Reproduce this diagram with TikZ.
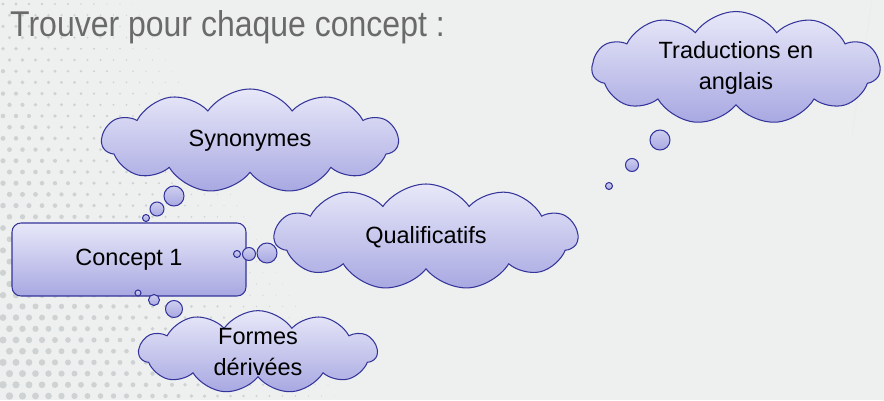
\documentclass[tikz,border=0pt]{standalone}
\usepackage{fontspec}
\setmainfont{Liberation Sans}
\usetikzlibrary{shapes.symbols}
\definecolor{bgc}{HTML}{EEF0F0}
\definecolor{dotc}{HTML}{CFD2D2}
\definecolor{edgec}{HTML}{34349A}
\definecolor{topc}{HTML}{E8E8F9}
\definecolor{botc}{HTML}{A8A8E2}
\definecolor{titlec}{HTML}{6A6A6A}
\tikzset{
  thought/.style={cloud, cloud ignores aspect, draw=edgec, line width=1.05pt, top color=topc, bottom color=botc,
    cloud puffs=11, cloud puff arc=110, inner sep=0pt, align=center,
    font=\fontsize{23.5}{31}\selectfont, text=black},
  bubble/.style={circle, draw=edgec, line width=1.05pt, top color=topc!60!botc, bottom color=botc, inner sep=0pt},
  conceptbox/.style={rectangle, rounded corners=9pt, draw=edgec, line width=1.05pt, top color=topc, bottom color=botc,
    font=\fontsize{23.5}{28}\selectfont, text=black}
}
\begin{document}
\begin{tikzpicture}[x=1pt,y=-1pt]
\useasboundingbox (0,0) rectangle (884,400);
\fill[bgc] (0,0) rectangle (884,400);
% halftone dots
\foreach \row in {0,...,36}{
  \foreach \col in {0,...,26}{
    \pgfmathsetmacro\yy{4+\row*11.2}
    \pgfmathsetmacro\xx{3+\col*13+mod(\row,2)*6.5}
    \pgfmathsetmacro\rr{max(0,3.8*(1-\xx/(180+0.5*\yy))*(0.45+0.0014*\yy))}
    \ifdim\rr pt>0.35pt
      \fill[dotc] (\xx,\yy) circle[radius=\rr];
    \fi
  }
}
% faint decoration top right
\draw[white!85!gray, line width=1.2pt] (872,0) -- (852,135);
\draw[white!88!gray, line width=1pt] (884,55) -- (835,90);

\node[anchor=base west, text=titlec, inner sep=0pt] (title) at (10,36)
  {\scalebox{1}[1.12]{\fontsize{32}{36}\selectfont Trouver pour chaque concept :}};

\node[conceptbox, minimum width=234, minimum height=73] (c1) at (129,259.5) {Concept 1};

\node[thought, minimum width=296, minimum height=104] (syn) at (250,141) {Synonymes};
\node[thought, minimum width=303, minimum height=106] (qual) at (426,237) {Qualificatifs};
\node[thought, minimum width=288, minimum height=113] (trad) at (736,68) {Traductions en\\anglais};
\node[thought, minimum width=238, minimum height=80] (form) at (258,352) {Formes\\dérivées};

% tails
\node[bubble, minimum size=20] (s1) at (174,196) {};
\node[bubble, minimum size=14] (s2) at (157,209) {};
\node[bubble, minimum size=7] (s3) at (146,218) {};

\node[bubble, minimum size=20] (q1) at (267,253) {};
\node[bubble, minimum size=13] (q2) at (249,254) {};
\node[bubble, minimum size=7] (q3) at (237,254) {};

\node[bubble, minimum size=17] (f1) at (174,309) {};
\node[bubble, minimum size=11] (f2) at (154,300) {};
\node[bubble, minimum size=6] (f3) at (138,293) {};

\node[bubble, minimum size=20] (t1) at (660,140) {};
\node[bubble, minimum size=13] (t2) at (632,165) {};
\node[bubble, minimum size=7] (t3) at (609,186) {};
\end{tikzpicture}
\end{document}
